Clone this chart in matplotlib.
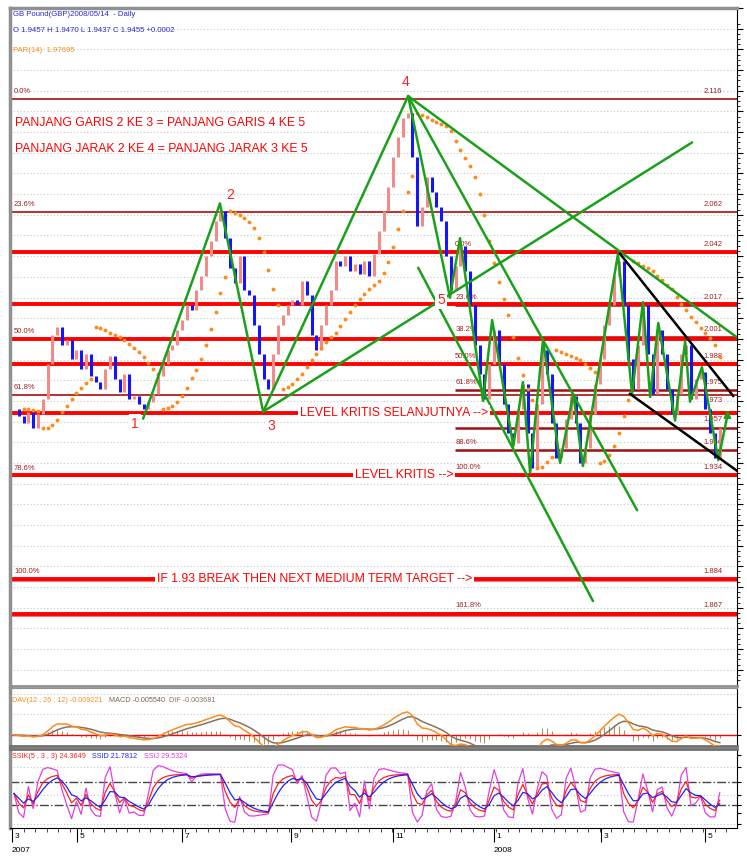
import numpy as np
import matplotlib
matplotlib.use("Agg")
import matplotlib.pyplot as plt
from matplotlib import transforms

# ---------------- data (2-day sampled closes, GBP/USD Mar 2007 - May 2008) ----------------
closes = [
    1.9662, 1.9629, 1.9591, 1.9648, 1.9567, 1.9638, 1.9710, 1.9877, 2.0020, 2.0058,
    1.9972, 1.9996, 1.9901, 1.9948, 1.9853, 1.9925, 1.9820, 1.9791, 1.9758, 1.9853,
    1.9915, 1.9805, 1.9743, 1.9829, 1.9710, 1.9724, 1.9686, 1.9662, 1.9696, 1.9734,
    1.9820, 1.9877, 1.9948, 1.9972, 2.0044, 2.0092, 2.0164, 2.0139, 2.0235, 2.0306,
    2.0402, 2.0473, 2.0568, 2.0616, 2.0487, 2.0344, 2.0268, 2.0402, 2.0235, 2.0211,
    2.0068, 1.9925, 1.9805, 1.9758, 1.9925, 2.0068, 2.0115, 2.0164, 2.0187, 2.0164,
    2.0282, 2.0211, 2.0020, 1.9948, 2.0068, 2.0164, 2.0235, 2.0378, 2.0354, 2.0402,
    2.0330, 2.0363, 2.0316, 2.0378, 2.0306, 2.0411, 2.0521, 2.0616, 2.0735, 2.0879,
    2.0974, 2.1069, 2.1093, 2.0879, 2.0545, 2.0640, 2.0783, 2.0712, 2.0640, 2.0568,
    2.0402, 2.0235, 2.0354, 2.0449, 2.0330, 2.0164, 1.9972, 1.9829, 1.9710, 1.9877,
    2.0044, 1.9877, 1.9686, 1.9543, 1.9495, 1.9662, 1.9781, 1.9543, 1.9376, 1.9686,
    1.9948, 1.9829, 1.9591, 1.9424, 1.9471, 1.9614, 1.9724, 1.9591, 1.9400, 1.9471,
    1.9638, 1.9781, 1.9901, 2.0068, 2.0164, 2.0306, 2.0378, 2.0164, 1.9901, 1.9758,
    1.9972, 2.0164, 1.9925, 1.9734, 2.0044, 1.9925, 1.9758, 1.9638, 1.9734, 1.9925,
    1.9972, 1.9710, 1.9805, 1.9839, 1.9662, 1.9543, 1.9424, 1.9567,
]

month_ticks = [-0.4, 13.1, 35.0, 57.7, 79.0, 100.0, 122.3, 144.0]
month_labels = ["3", "5", "7", "9", "11", "1", "3", "5"]
year_ticks = [-0.4, 100.0]
year_labels = ["2007", "2008"]

# thick red support/resistance levels
red_levels = [2.042, 2.017, 2.000, 1.988, 1.9643, 1.934, 1.884, 1.867]

# left fibonacci (2.116 -> 1.884)
fibL_hi, fibL_lo = 2.116, 1.884
fibL_ratios = [0.0, 0.236, 0.5, 0.618, 0.786, 1.0]
fibL_pct = ["0.0%", "23.6%", "50.0%", "61.8%", "78.6%", "100.0%"]
fibL_val = ["2.116", "2.062", "", "1.973", "", "1.884"]

# right fibonacci (2.042 -> 1.934)
fibR_hi, fibR_lo = 2.042, 1.934
fibR_ratios = [0.0, 0.236, 0.382, 0.5, 0.618, 0.786, 0.886, 1.0, 1.618]
fibR_pct = ["0.0%", "23.6%", "38.2%", "50.0%", "61.8%", "", "88.6%", "100.0%", "161.8%"]
fibR_val = ["2.042", "2.017", "2.001", "1.988", "1.975", "1.957", "1.946", "1.934", "1.867"]

# green trend lines (bar index, price)
green_lines = [
    ((26.9, 1.9614), (42.9, 2.0654)),
    ((42.9, 2.0654), (51.9, 1.9648)),
    ((51.9, 1.9648), (82.1, 2.1174)),
    ((51.9, 1.9648), (141.25, 2.0950)),
    ((82.1, 2.1174), (151.25, 1.9996)),
    ((82.1, 2.1174), (129.8, 1.9171)),
    ((82.1, 2.1174), (90.8, 2.0201)),
    ((84.2, 2.0344), (120.6, 1.8732)),
]
zigzag_k = [90.8, 92.9, 97.7, 99.6, 104.0, 106.0, 107.5, 110.2, 113.75, 116.5, 118.5,
            122.1, 125.8, 128.75, 131.0, 132.5, 134.2, 137.7, 139.8, 140.8, 143.3, 146.7, 148.6]
zigzag_p = [2.0201, 2.0487, 1.9700, 2.0091, 1.9481, 1.9791, 1.9352, 1.9996, 1.9400, 1.9734, 1.9385,
            1.9891, 2.0411, 1.9734, 2.0177, 1.9719, 2.0077, 1.9605, 1.9987, 1.9696, 1.9863, 1.9414, 1.9629]
black_lines = [
    ((126.25, 2.0411), (149.8, 1.9724)),
    ((128.3, 1.9734), (150.6, 1.9362)),
]

# ---------------- indicators ----------------
c = np.array(closes)
n = len(c)
x = np.arange(n)
o = np.concatenate([[c[0]], c[:-1]])


def ema(a, span):
    k = 2.0 / (span + 1)
    out = np.empty_like(a)
    out[0] = a[0]
    for i in range(1, len(a)):
        out[i] = out[i - 1] + k * (a[i] - out[i - 1])
    return out


def psar(c, step=0.02, mx=0.2):
    out = np.full(len(c), np.nan)
    up = c[1] >= c[0]
    af = step
    ep = max(c[0], c[1]) if up else min(c[0], c[1])
    sar = min(c[0], c[1]) if up else max(c[0], c[1])
    for i in range(2, len(c)):
        sar = sar + af * (ep - sar)
        if up:
            if c[i] < sar:
                up, sar, ep, af = False, ep, c[i], step
            elif c[i] > ep:
                ep, af = c[i], min(af + step, mx)
        else:
            if c[i] > sar:
                up, sar, ep, af = True, ep, c[i], step
            elif c[i] < ep:
                ep, af = c[i], min(af + step, mx)
        out[i] = sar
    return out


sar = psar(c)
dif = ema(c, 6) - ema(c, 13)
dea = ema(dif, 6)
hist = dif - dea

nK = 4
raw = []
for i in range(n):
    w = c[max(0, i - nK + 1):i + 1]
    rng = w.max() - w.min()
    raw.append(50.0 if rng == 0 else (c[i] - w.min()) / rng * 100)
raw = np.array(raw)
K = ema(raw, 3)
D = ema(K, 3)
J = 3 * K - 2 * D

# ---------------- figure ----------------
W, H = 747, 857
fig = plt.figure(figsize=(W / 100, H / 100), dpi=100)
fig.patch.set_facecolor("white")
FONT = ["Liberation Sans", "DejaVu Sans"]


def rect(x0, y0, x1, y1):
    return [x0 / W, 1 - y1 / H, (x1 - x0) / W, (y1 - y0) / H]


def ypx(y):
    return 2.116 - (y - 91) / 2096.0


XL = (-0.83, 150.6)
ax = fig.add_axes(rect(10, 8, 737, 686))
ax.set_xlim(*XL)
ax.set_ylim(ypx(686), ypx(8))

# grid
grid = np.arange(1.84, 2.16, 0.01)
ax.hlines(grid, XL[0], XL[1], colors="#c8c8c8", linestyles=(0, (1, 2)), lw=0.8, zorder=0)

# fib lines (thin dark red)
fibL = [fibL_hi - r * (fibL_hi - fibL_lo) for r in fibL_ratios]
ax.hlines(fibL, XL[0], XL[1], colors="#b02020", lw=1.3, zorder=1)
kR = 91.9
fibR = [fibR_hi - r * (fibR_hi - fibR_lo) for r in fibR_ratios]
ax.hlines(fibR, kR, XL[1], colors="#a01010", lw=1.8, zorder=1)

# red levels
ax.hlines(red_levels, XL[0], XL[1], colors="#ff0000", lw=2.8, zorder=2)
ax.hlines([1.884 - 0.0012, 1.867 - 0.0012], XL[0], XL[1], colors="#e08080", lw=1.5, zorder=1)

lab_kw = dict(fontsize=5.5, color="#a02020", family=FONT, zorder=1)
for lv, t in zip(fibL, fibL_pct):
    ax.text(0.0, lv + 0.002, t, ha="left", va="bottom", **lab_kw)
for lv, t in zip(fibL, fibL_val):
    if t == "1.973":
        ax.text(147.5, lv - 0.0008, t, ha="right", va="top", **lab_kw)
    elif t:
        ax.text(147.5, lv + 0.002, t, ha="right", va="bottom", **lab_kw)
for lv, t in zip(fibR, fibR_pct):
    if t:
        ax.text(kR, lv + 0.002, t, ha="left", va="bottom", **lab_kw)
for lv, t in zip(fibR, fibR_val):
    ax.text(147.5, lv + 0.002, t, ha="right", va="bottom", **lab_kw)

# price bars
up = c >= o
ax.vlines(x[up], o[up], c[up], colors="#f28a8a", lw=2.2, zorder=3)
ax.vlines(x[~up], o[~up], c[~up], colors="#1414ff", lw=2.2, zorder=3)

# PSAR
ax.plot(x, sar, ls="none", marker="o", ms=2.8, color="#ff8a1c", mec="none", zorder=4)

# trend lines
for (a, b) in green_lines:
    ax.plot([a[0], b[0]], [a[1], b[1]], color="#1aa01a", lw=1.8, zorder=5, solid_capstyle="round")
ax.plot(zigzag_k, zigzag_p, color="#1aa01a", lw=1.8, zorder=5)
ax.annotate("", xy=(zigzag_k[-1], zigzag_p[-1] + 0.004), xytext=(zigzag_k[-1], zigzag_p[-1] - 0.001),
            arrowprops=dict(arrowstyle="-|>", color="#1aa01a", lw=1.5), zorder=5)
for (a, b) in black_lines:
    ax.plot([a[0], b[0]], [a[1], b[1]], color="black", lw=1.8, zorder=5)

# annotations
big = dict(color="#ff0000", fontsize=8.8, family=FONT, zorder=6)
ax.text(0.2, ypx(115), "PANJANG GARIS 2 KE 3 = PANJANG GARIS 4 KE 5", ha="left", va="center", **big)
ax.text(0.2, ypx(142), "PANJANG JARAK 2 KE 4 = PANJANG JARAK 3 KE 5", ha="left", va="center", **big)
bb = dict(facecolor="white", edgecolor="none", pad=1.5)
ax.text(59.6, 1.9643, "LEVEL KRITIS SELANJUTNYA -->", ha="left", va="center", bbox=bb, **big)
ax.text(71.0, 1.934, "LEVEL KRITIS -->", ha="left", va="center", bbox=bb, **big)
ax.text(29.8, 1.884, "IF 1.93 BREAK THEN NEXT MEDIUM TERM TARGET -->", ha="left", va="center", bbox=bb, **big)
num = dict(color="#ff2020", fontsize=10, family=FONT, ha="center", va="center", zorder=6)
ax.text(25.2, ypx(420), "1", bbox=bb, **num)
ax.text(45.0, ypx(188), "2", **num)
ax.text(53.5, ypx(422), "3", bbox=bb, **num)
ax.text(81.5, ypx(74), "4", **num)
ax.text(89.0, ypx(295), "5", bbox=bb, **num)

# header
hdr = dict(fontsize=5.6, family=FONT, va="center", ha="left")
fig.text(13 / W, 1 - 15 / H, "GB Pound(GBP)2008/05/14  - Daily", color="#2a2ad0", **hdr)
fig.text(13 / W, 1 - 31 / H, "O 1.9457 H 1.9470 L 1.9437 C 1.9455 +0.0002", color="#2a2ad0", **hdr)
fig.text(13 / W, 1 - 50 / H, "PAR(14)  1.97695", color="#ff8a1c", **hdr)

ax.yaxis.tick_right()
ax.set_yticks(np.arange(1.84, 2.16, 0.01))
ax.set_yticks(np.arange(1.835, 2.155, 0.0025), minor=True)
ax.tick_params(axis="y", which="major", length=4, labelright=False, direction="out", width=0.8)
ax.tick_params(axis="y", which="minor", length=2, direction="out", width=0.6)
ax.set_xticks([])
for s in ["left", "top"]:
    ax.spines[s].set_color("#909090")
    ax.spines[s].set_linewidth(2.5)
ax.spines["bottom"].set_color("#909090")
ax.spines["bottom"].set_linewidth(2.0)
ax.spines["right"].set_linewidth(0.8)

# ---------------- MACD panel ----------------
ax2 = fig.add_axes(rect(10, 688, 737, 746))
ax2.set_xlim(*XL)
pm = np.max(dif)
ax2.set_ylim(-0.48 * pm, 2.04 * pm)
for v in [1.0, 2.0]:
    ax2.axhline(v * pm * 0.9, color="#c8c8c8", ls=(0, (1, 2)), lw=0.8, zorder=0)
ax2.vlines(x, 0, hist, colors="#a8946a", lw=0.8, zorder=1)
ax2.axhline(0, color="#ff0000", lw=1.0, zorder=2)
ax2.plot(x, dea, color="#8a7060", lw=1.1, zorder=3)
ax2.plot(x, dif, color="#ff8a1c", lw=1.1, zorder=3)
t2 = dict(fontsize=5.2, family=FONT, va="center", transform=ax2.transAxes)
ax2.text(0.003, 0.78, "DAV(12 , 26 , 12) -0.009221", color="#ff8a1c", **t2)
ax2.text(0.136, 0.78, "MACD -0.005540", color="#806050", **t2)
ax2.text(0.219, 0.78, "DIF -0.003681", color="#907060", **t2)
ax2.yaxis.tick_right()
ax2.tick_params(axis="y", length=3, labelright=False)
ax2.set_xticks([])
ax2.spines["left"].set_color("#909090")
ax2.spines["left"].set_linewidth(2.5)
ax2.spines["top"].set_color("#909090")
ax2.spines["bottom"].set_color("#707070")
ax2.spines["bottom"].set_linewidth(2.0)

# ---------------- Stochastic panel ----------------
ax3 = fig.add_axes(rect(10, 749, 737, 828))
ax3.set_xlim(*XL)
ax3.set_ylim(-40, 166)
for v in [120, 45, -30]:
    ax3.axhline(v, color="#c8c8c8", ls=(0, (1, 2)), lw=0.8, zorder=0)
ax3.axhline(80, color="#444444", ls="-.", lw=1.0, zorder=1)
ax3.axhline(20, color="#444444", ls="-.", lw=1.0, zorder=1)
ax3.plot(x, J, color="#e040e0", lw=0.9, zorder=2)
ax3.plot(x, K, color="#ff2020", lw=0.9, zorder=3)
ax3.plot(x, D, color="#2020ff", lw=0.9, zorder=4)
t3 = dict(fontsize=5.2, family=FONT, va="center", transform=ax3.transAxes)
ax3.text(0.003, 0.9, "SSIK(5 , 3 , 3) 24.3649", color="#ff2020", **t3)
ax3.text(0.113, 0.9, "SSID 21.7812", color="#2020ff", **t3)
ax3.text(0.185, 0.9, "SSIJ 29.5324", color="#e040e0", **t3)
ax3.yaxis.tick_right()
ax3.set_yticks([-30, 0, 20, 45, 80, 120, 150])
ax3.tick_params(axis="y", length=3, labelright=False)
ax3.set_xticks(month_ticks)
ax3.set_xticklabels([])
ax3.set_xticks(np.arange(-0.4, 150, 2.4), minor=True)
ax3.tick_params(axis="x", which="major", length=10, width=0.8, direction="out")
ax3.tick_params(axis="x", which="minor", length=3, width=0.5, direction="out")
ax3.spines["left"].set_color("#909090")
ax3.spines["left"].set_linewidth(2.5)
ax3.spines["top"].set_color("#707070")
ax3.spines["top"].set_linewidth(2.0)
bt = transforms.blended_transform_factory(ax3.transData, fig.transFigure)
for k, lab in zip(month_ticks, month_labels):
    ax3.text(k + 0.5, 1 - 836 / H, lab, transform=bt, fontsize=6, family=FONT, ha="left", va="center")
for k, lab in zip(year_ticks, year_labels):
    ax3.text(k, 1 - 850 / H, lab, transform=bt, fontsize=6, family=FONT, ha="left", va="center")

fig.savefig("out.png", dpi=100, facecolor="white")
